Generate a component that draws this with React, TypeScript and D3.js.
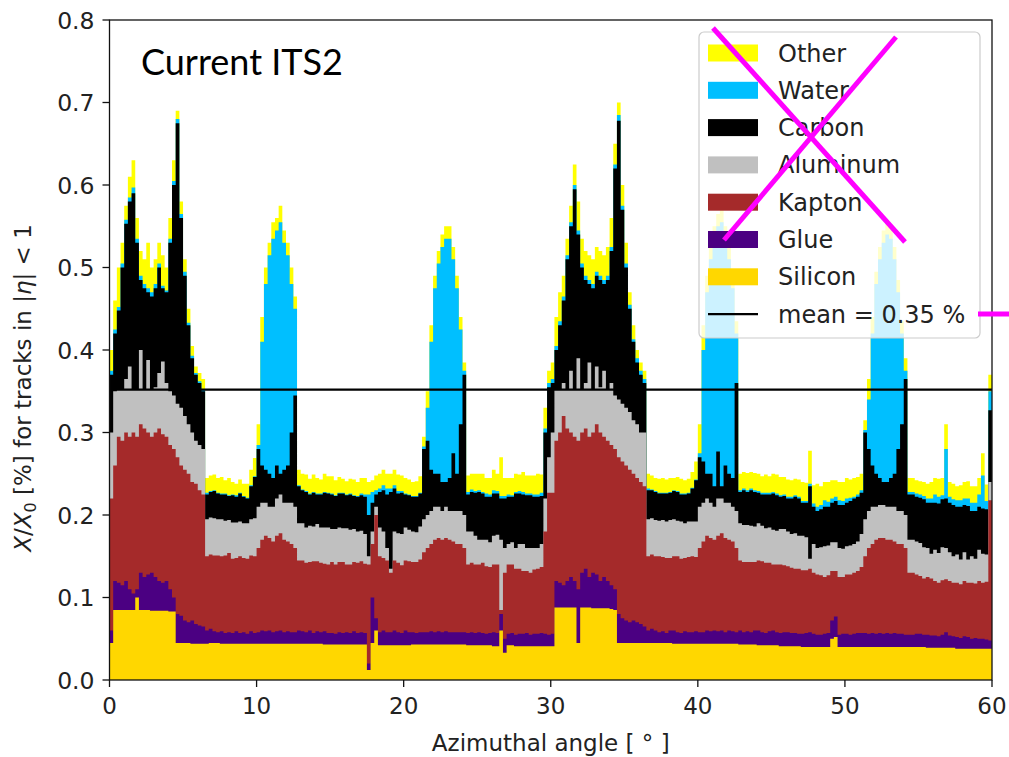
import React from "react";
import * as d3 from "d3";

// Material budget per azimuthal bin (X/X0 in %), 0.25 degree bins from 0 to 60 degrees
const ANGLE_MIN = 0;
const ANGLE_MAX = 60;
const BIN_WIDTH = 0.25;

const silicon = [
  0.045, 0.085, 0.085, 0.085, 0.085, 0.085, 0.085, 0.1, 0.085, 0.085,
  0.085, 0.084, 0.084, 0.084, 0.084, 0.084, 0.083, 0.083, 0.045, 0.045,
  0.045, 0.045, 0.044, 0.044, 0.044, 0.044, 0.044, 0.045, 0.045, 0.045,
  0.044, 0.044, 0.044, 0.044, 0.044, 0.044, 0.044, 0.044, 0.044, 0.044,
  0.044, 0.044, 0.044, 0.044, 0.044, 0.044, 0.044, 0.044, 0.044, 0.044,
  0.044, 0.044, 0.044, 0.044, 0.044, 0.044, 0.044, 0.044, 0.043, 0.043,
  0.043, 0.043, 0.043, 0.043, 0.043, 0.043, 0.043, 0.043, 0.043, 0.043,
  0.012, 0.045, 0.06, 0.042, 0.042, 0.042, 0.042, 0.042, 0.042, 0.042,
  0.042, 0.042, 0.043, 0.043, 0.043, 0.043, 0.043, 0.043, 0.043, 0.043,
  0.043, 0.043, 0.043, 0.043, 0.043, 0.043, 0.043, 0.042, 0.042, 0.042,
  0.042, 0.042, 0.042, 0.042, 0.041, 0.041, 0.06, 0.033, 0.042, 0.042,
  0.041, 0.041, 0.041, 0.041, 0.041, 0.041, 0.041, 0.041, 0.041, 0.041,
  0.041, 0.088, 0.088, 0.088, 0.088, 0.088, 0.088, 0.045, 0.088, 0.088,
  0.088, 0.087, 0.087, 0.087, 0.087, 0.087, 0.086, 0.085, 0.045, 0.045,
  0.045, 0.045, 0.045, 0.045, 0.045, 0.045, 0.045, 0.045, 0.045, 0.045,
  0.045, 0.045, 0.045, 0.044, 0.044, 0.044, 0.044, 0.044, 0.044, 0.044,
  0.044, 0.044, 0.044, 0.044, 0.044, 0.044, 0.044, 0.044, 0.044, 0.044,
  0.044, 0.043, 0.043, 0.043, 0.043, 0.043, 0.042, 0.042, 0.042, 0.042,
  0.042, 0.042, 0.041, 0.041, 0.041, 0.041, 0.041, 0.041, 0.04, 0.04,
  0.04, 0.04, 0.04, 0.04, 0.04, 0.04, 0.05, 0.052, 0.04, 0.04,
  0.04, 0.04, 0.04, 0.04, 0.04, 0.04, 0.04, 0.04, 0.04, 0.04,
  0.04, 0.04, 0.04, 0.04, 0.04, 0.04, 0.04, 0.04, 0.04, 0.04,
  0.04, 0.04, 0.039, 0.039, 0.039, 0.039, 0.039, 0.039, 0.039, 0.039,
  0.038, 0.038, 0.038, 0.038, 0.038, 0.038, 0.038, 0.038, 0.038, 0.038,
];

const glue = [
  0.015, 0.035, 0.033, 0.03, 0.035, 0.025, 0.02, 0.01, 0.045, 0.04,
  0.043, 0.046, 0.041, 0.036, 0.034, 0.036, 0.027, 0.017, 0.035, 0.033,
  0.027, 0.025, 0.028, 0.024, 0.022, 0.021, 0.016, 0.017, 0.014, 0.013,
  0.015, 0.013, 0.014, 0.013, 0.015, 0.013, 0.014, 0.012, 0.015, 0.013,
  0.014, 0.016, 0.015, 0.016, 0.014, 0.015, 0.016, 0.014, 0.015, 0.014,
  0.014, 0.016, 0.015, 0.014, 0.016, 0.013, 0.015, 0.014, 0.016, 0.014,
  0.014, 0.013, 0.015, 0.014, 0.015, 0.014, 0.016, 0.014, 0.015, 0.014,
  0.008, 0.055, 0.015, 0.016, 0.018, 0.016, 0.016, 0.018, 0.016, 0.015,
  0.018, 0.016, 0.015, 0.014, 0.015, 0.015, 0.015, 0.016, 0.015, 0.016,
  0.015, 0.016, 0.015, 0.015, 0.015, 0.015, 0.015, 0.015, 0.016, 0.015,
  0.016, 0.015, 0.014, 0.015, 0.017, 0.016, 0.02, 0.017, 0.014, 0.015,
  0.014, 0.015, 0.015, 0.016, 0.014, 0.015, 0.015, 0.016, 0.015, 0.014,
  0.015, 0.032, 0.03, 0.027, 0.032, 0.037, 0.032, 0.065, 0.042, 0.047,
  0.037, 0.043, 0.041, 0.033, 0.038, 0.033, 0.029, 0.025, 0.035, 0.03,
  0.027, 0.025, 0.027, 0.025, 0.023, 0.02, 0.015, 0.017, 0.015, 0.013,
  0.014, 0.012, 0.015, 0.016, 0.014, 0.013, 0.015, 0.014, 0.014, 0.015,
  0.014, 0.014, 0.016, 0.015, 0.016, 0.015, 0.016, 0.014, 0.016, 0.015,
  0.014, 0.017, 0.015, 0.016, 0.015, 0.017, 0.018, 0.016, 0.015, 0.017,
  0.018, 0.016, 0.016, 0.017, 0.017, 0.016, 0.016, 0.015, 0.016, 0.017,
  0.018, 0.016, 0.015, 0.015, 0.016, 0.017, 0.022, 0.025, 0.015, 0.016,
  0.016, 0.015, 0.016, 0.017, 0.017, 0.017, 0.016, 0.017, 0.016, 0.017,
  0.016, 0.017, 0.016, 0.017, 0.016, 0.016, 0.015, 0.015, 0.015, 0.016,
  0.016, 0.015, 0.016, 0.015, 0.015, 0.014, 0.016, 0.019, 0.015, 0.014,
  0.014, 0.013, 0.015, 0.014, 0.012, 0.013, 0.012, 0.012, 0.011, 0.01,
];

const kapton = [
  0.16, 0.14, 0.177, 0.175, 0.18, 0.185, 0.195, 0.185, 0.18, 0.18,
  0.172, 0.165, 0.175, 0.185, 0.18, 0.175, 0.175, 0.18, 0.19, 0.182,
  0.183, 0.18, 0.168, 0.17, 0.164, 0.16, 0.09, 0.09, 0.092, 0.093,
  0.091, 0.094, 0.096, 0.09, 0.089, 0.093, 0.09, 0.091, 0.092, 0.093,
  0.102, 0.11, 0.116, 0.112, 0.11, 0.116, 0.118, 0.112, 0.109, 0.107,
  0.102, 0.085, 0.086, 0.084, 0.083, 0.087, 0.085, 0.084, 0.082, 0.083,
  0.086, 0.084, 0.085, 0.086, 0.082, 0.083, 0.084, 0.085, 0.086, 0.084,
  0.12, 0.065, 0.125, 0.092, 0.088, 0.087, 0.072, 0.085, 0.084, 0.082,
  0.085, 0.086, 0.085, 0.086, 0.088, 0.097, 0.102, 0.106, 0.112, 0.113,
  0.112, 0.113, 0.112, 0.11, 0.107, 0.107, 0.102, 0.083, 0.084, 0.083,
  0.082, 0.085, 0.082, 0.08, 0.082, 0.083, 0.005, 0.08, 0.084, 0.083,
  0.08, 0.079, 0.076, 0.075, 0.075, 0.078, 0.079, 0.08, 0.124, 0.172,
  0.171, 0.17, 0.182, 0.205, 0.185, 0.175, 0.175, 0.18, 0.17, 0.17,
  0.17, 0.17, 0.182, 0.18, 0.17, 0.17, 0.17, 0.17, 0.19, 0.19,
  0.188, 0.185, 0.178, 0.175, 0.172, 0.17, 0.09, 0.09, 0.09, 0.092,
  0.09, 0.091, 0.088, 0.09, 0.092, 0.09, 0.089, 0.091, 0.092, 0.09,
  0.102, 0.11, 0.115, 0.113, 0.11, 0.116, 0.118, 0.114, 0.11, 0.109,
  0.102, 0.085, 0.085, 0.084, 0.085, 0.083, 0.085, 0.086, 0.085, 0.083,
  0.08, 0.082, 0.083, 0.081, 0.08, 0.079, 0.078, 0.079, 0.077, 0.076,
  0.077, 0.074, 0.073, 0.072, 0.069, 0.07, 0.06, 0.055, 0.07, 0.069,
  0.072, 0.073, 0.074, 0.075, 0.08, 0.093, 0.104, 0.108, 0.114, 0.115,
  0.116, 0.113, 0.114, 0.111, 0.109, 0.109, 0.105, 0.075, 0.075, 0.072,
  0.07, 0.068, 0.07, 0.069, 0.066, 0.065, 0.066, 0.064, 0.066, 0.065,
  0.066, 0.065, 0.067, 0.066, 0.068, 0.066, 0.07, 0.068, 0.07, 0.17,
];

const aluminum = [
  0.08, 0.09, 0.057, 0.062, 0.065, 0.085, 0.052, 0.057, 0.09, 0.047,
  0.088, 0.057, 0.055, 0.067, 0.088, 0.065, 0.065, 0.065, 0.065, 0.07,
  0.065, 0.06, 0.06, 0.052, 0.055, 0.055, 0.045, 0.045, 0.045, 0.044,
  0.045, 0.042, 0.04, 0.044, 0.043, 0.042, 0.042, 0.043, 0.044, 0.046,
  0.05, 0.045, 0.04, 0.038, 0.042, 0.045, 0.047, 0.045, 0.047, 0.05,
  0.05, 0.045, 0.045, 0.043, 0.044, 0.042, 0.045, 0.043, 0.044, 0.045,
  0.04, 0.043, 0.042, 0.041, 0.044, 0.042, 0.04, 0.038, 0.037, 0.036,
  0.01, 0.015, 0.01, 0.035, 0.032, 0.015, 0.005, 0.035, 0.036, 0.038,
  0.04, 0.038, 0.037, 0.036, 0.04, 0.04, 0.04, 0.04, 0.04, 0.038,
  0.035, 0.038, 0.035, 0.037, 0.04, 0.04, 0.04, 0.04, 0.038, 0.035,
  0.03, 0.028, 0.032, 0.03, 0.035, 0.036, 0.085, 0.03, 0.025, 0.027,
  0.025, 0.03, 0.033, 0.028, 0.03, 0.026, 0.025, 0.028, 0.04, 0.043,
  0.073, 0.062, 0.052, 0.04, 0.047, 0.075, 0.057, 0.1, 0.052, 0.055,
  0.09, 0.052, 0.07, 0.055, 0.08, 0.062, 0.075, 0.065, 0.07, 0.07,
  0.07, 0.07, 0.065, 0.065, 0.06, 0.065, 0.045, 0.044, 0.044, 0.043,
  0.045, 0.044, 0.046, 0.045, 0.043, 0.045, 0.042, 0.043, 0.042, 0.043,
  0.05, 0.047, 0.045, 0.043, 0.04, 0.045, 0.042, 0.043, 0.045, 0.042,
  0.045, 0.045, 0.045, 0.045, 0.044, 0.043, 0.045, 0.043, 0.042, 0.043,
  0.042, 0.041, 0.043, 0.044, 0.042, 0.041, 0.043, 0.04, 0.042, 0.04,
  0.012, 0.035, 0.032, 0.034, 0.037, 0.036, 0.035, 0.035, 0.035, 0.034,
  0.034, 0.035, 0.035, 0.036, 0.04, 0.045, 0.045, 0.045, 0.04, 0.04,
  0.04, 0.04, 0.04, 0.042, 0.04, 0.04, 0.04, 0.04, 0.04, 0.04,
  0.04, 0.038, 0.035, 0.03, 0.038, 0.036, 0.04, 0.038, 0.035, 0.032,
  0.034, 0.03, 0.035, 0.028, 0.032, 0.03, 0.038, 0.035, 0.033, 0.022,
];

const carbon = [
  0.07, 0.07, 0.096, 0.148, 0.188, 0.2, 0.238, 0.178, 0.085, 0.123,
  0.082, 0.113, 0.12, 0.128, 0.089, 0.11, 0.18, 0.255, 0.34, 0.23,
  0.17, 0.12, 0.09, 0.08, 0.075, 0.07, 0.03, 0.031, 0.033, 0.031,
  0.03, 0.032, 0.029, 0.033, 0.031, 0.034, 0.032, 0.03, 0.04, 0.05,
  0.07, 0.045, 0.04, 0.04, 0.035, 0.04, 0.025, 0.04, 0.045, 0.085,
  0.135, 0.045, 0.04, 0.043, 0.038, 0.041, 0.036, 0.04, 0.042, 0.041,
  0.042, 0.04, 0.041, 0.042, 0.04, 0.043, 0.04, 0.042, 0.043, 0.045,
  0.05, 0.035, 0.015, 0.043, 0.05, 0.065, 0.093, 0.052, 0.048, 0.05,
  0.04, 0.042, 0.042, 0.043, 0.04, 0.085, 0.09, 0.05, 0.04, 0.04,
  0.035, 0.03, 0.04, 0.07, 0.045, 0.105, 0.17, 0.045, 0.048, 0.052,
  0.058, 0.056, 0.052, 0.055, 0.051, 0.05, 0.05, 0.06, 0.057, 0.055,
  0.066, 0.061, 0.06, 0.064, 0.064, 0.062, 0.062, 0.058, 0.08, 0.085,
  0.06, 0.048, 0.078, 0.1, 0.158, 0.175, 0.243, 0.15, 0.148, 0.125,
  0.095, 0.123, 0.11, 0.13, 0.105, 0.133, 0.16, 0.275, 0.338, 0.235,
  0.17, 0.125, 0.095, 0.075, 0.07, 0.06, 0.035, 0.034, 0.034, 0.033,
  0.032, 0.034, 0.033, 0.034, 0.035, 0.033, 0.035, 0.034, 0.04, 0.05,
  0.06, 0.05, 0.03, 0.035, 0.025, 0.057, 0.015, 0.045, 0.035, 0.035,
  0.155, 0.038, 0.042, 0.04, 0.043, 0.042, 0.037, 0.038, 0.041, 0.04,
  0.044, 0.043, 0.039, 0.04, 0.04, 0.043, 0.044, 0.045, 0.04, 0.042,
  0.088, 0.045, 0.045, 0.046, 0.048, 0.047, 0.048, 0.05, 0.052, 0.053,
  0.053, 0.054, 0.055, 0.054, 0.05, 0.105, 0.075, 0.05, 0.04, 0.033,
  0.028, 0.03, 0.035, 0.04, 0.075, 0.105, 0.165, 0.055, 0.055, 0.054,
  0.055, 0.058, 0.055, 0.062, 0.057, 0.06, 0.058, 0.06, 0.06, 0.062,
  0.058, 0.064, 0.057, 0.065, 0.055, 0.058, 0.052, 0.055, 0.055, 0.087,
];

const water = [
  0.005, 0.005, 0.004, 0.005, 0.005, 0.005, 0.007, 0.005, 0.005, 0.005,
  0.005, 0.005, 0.005, 0.005, 0.003, 0.002, 0.005, 0.005, 0.005, 0.005,
  0.005, 0.003, 0.003, 0.002, 0.002, 0.002, 0.002, 0.001, 0.001, 0.001,
  0.001, 0.001, 0.001, 0.001, 0.002, 0.001, 0.001, 0.001, 0.001, 0.001,
  0.005, 0.15, 0.225, 0.265, 0.29, 0.285, 0.305, 0.275, 0.255, 0.18,
  0.105, 0.001, 0.001, 0.001, 0.001, 0.001, 0.001, 0.001, 0.001, 0.001,
  0.001, 0.001, 0.001, 0.001, 0.001, 0.001, 0.001, 0.001, 0.002, 0.003,
  0.025, 0.013, 0.005, 0.004, 0.006, 0.007, 0.004, 0.004, 0.003, 0.002,
  0.001, 0.001, 0.001, 0.001, 0.001, 0.003, 0.04, 0.155, 0.225, 0.255,
  0.285, 0.295, 0.29, 0.235, 0.225, 0.115, 0.005, 0.003, 0.003, 0.002,
  0.002, 0.002, 0.004, 0.003, 0.004, 0.003, 0.003, 0.003, 0.003, 0.002,
  0.002, 0.003, 0.003, 0.002, 0.002, 0.003, 0.003, 0.004, 0.005, 0.005,
  0.005, 0.005, 0.005, 0.005, 0.005, 0.005, 0.005, 0.005, 0.005, 0.005,
  0.005, 0.005, 0.005, 0.005, 0.005, 0.005, 0.005, 0.005, 0.007, 0.005,
  0.005, 0.005, 0.003, 0.005, 0.005, 0.005, 0.002, 0.001, 0.001, 0.001,
  0.001, 0.001, 0.001, 0.001, 0.001, 0.001, 0.001, 0.001, 0.001, 0.001,
  0.005, 0.135, 0.22, 0.26, 0.3, 0.273, 0.32, 0.275, 0.26, 0.23,
  0.06, 0.002, 0.002, 0.002, 0.002, 0.002, 0.002, 0.002, 0.002, 0.002,
  0.002, 0.002, 0.002, 0.002, 0.002, 0.002, 0.002, 0.002, 0.002, 0.002,
  0.003, 0.004, 0.005, 0.005, 0.008, 0.006, 0.005, 0.005, 0.006, 0.005,
  0.005, 0.004, 0.002, 0.003, 0.003, 0.003, 0.06, 0.16, 0.23, 0.265,
  0.29, 0.3, 0.29, 0.26, 0.19, 0.11, 0.01, 0.003, 0.003, 0.004,
  0.004, 0.004, 0.005, 0.005, 0.01, 0.008, 0.005, 0.06, 0.007, 0.007,
  0.008, 0.008, 0.008, 0.009, 0.01, 0.01, 0.015, 0.04, 0.01, 0.023,
];

const other = [
  0.025, 0.035, 0.048, 0.025, 0.017, 0.025, 0.033, 0.025, 0.03, 0.03,
  0.055, 0.03, 0.03, 0.025, 0.037, 0.028, 0.025, 0.025, 0.01, 0.015,
  0.015, 0.017, 0.012, 0.008, 0.01, 0.013, 0.018, 0.019, 0.019, 0.018,
  0.02, 0.016, 0.021, 0.015, 0.014, 0.016, 0.015, 0.017, 0.019, 0.022,
  0.025, 0.03, 0.02, 0.015, 0.02, 0.015, 0.02, 0.015, 0.015, 0.02,
  0.015, 0.019, 0.019, 0.02, 0.018, 0.021, 0.019, 0.017, 0.022, 0.02,
  0.021, 0.018, 0.019, 0.017, 0.016, 0.018, 0.019, 0.017, 0.019, 0.02,
  0.015, 0.014, 0.018, 0.018, 0.019, 0.018, 0.018, 0.019, 0.02, 0.019,
  0.019, 0.018, 0.017, 0.018, 0.02, 0.012, 0.02, 0.02, 0.015, 0.015,
  0.015, 0.015, 0.015, 0.015, 0.015, 0.015, 0.01, 0.02, 0.019, 0.021,
  0.02, 0.022, 0.019, 0.02, 0.025, 0.021, 0.047, 0.022, 0.02, 0.021,
  0.022, 0.02, 0.024, 0.022, 0.022, 0.023, 0.025, 0.022, 0.025, 0.015,
  0.02, 0.035, 0.035, 0.025, 0.02, 0.02, 0.025, 0.035, 0.03, 0.03,
  0.03, 0.03, 0.03, 0.03, 0.03, 0.035, 0.035, 0.025, 0.015, 0.025,
  0.025, 0.015, 0.017, 0.01, 0.01, 0.01, 0.018, 0.017, 0.016, 0.017,
  0.018, 0.016, 0.017, 0.015, 0.017, 0.018, 0.016, 0.017, 0.019, 0.022,
  0.035, 0.03, 0.02, 0.015, 0.015, 0.015, 0.015, 0.015, 0.015, 0.015,
  0.015, 0.02, 0.02, 0.021, 0.02, 0.021, 0.021, 0.02, 0.022, 0.02,
  0.022, 0.023, 0.022, 0.021, 0.021, 0.02, 0.02, 0.021, 0.023, 0.022,
  0.04, 0.022, 0.028, 0.023, 0.022, 0.024, 0.022, 0.02, 0.022, 0.023,
  0.025, 0.022, 0.023, 0.021, 0.02, 0.012, 0.025, 0.02, 0.015, 0.015,
  0.015, 0.015, 0.015, 0.015, 0.015, 0.015, 0.015, 0.017, 0.017, 0.016,
  0.016, 0.017, 0.018, 0.02, 0.02, 0.022, 0.021, 0.03, 0.018, 0.019,
  0.017, 0.018, 0.02, 0.021, 0.02, 0.02, 0.02, 0.027, 0.02, 0.02,
];

const meanValue = 0.352;

const xTicks = [0, 10, 20, 30, 40, 50, 60];
const yTicks = [0, 0.1, 0.2, 0.3, 0.4, 0.5, 0.6, 0.7, 0.8];

// Stack order, bottom to top
const layers = [
  { key: "Silicon", values: silicon, color: "#ffd700" },
  { key: "Glue", values: glue, color: "#4b0082" },
  { key: "Kapton", values: kapton, color: "#a52a2a" },
  { key: "Aluminum", values: aluminum, color: "#c0c0c0" },
  { key: "Carbon", values: carbon, color: "#000000" },
  { key: "Water", values: water, color: "#00bfff" },
  { key: "Other", values: other, color: "#ffff00" },
];

const W = 1009;
const H = 757;
const plot = { left: 109.5, right: 992, top: 20, bottom: 680 };

const FONT = "'DejaVu Sans', sans-serif";

export default function App() {
  const x = d3.scaleLinear().domain([ANGLE_MIN, ANGLE_MAX]).range([plot.left, plot.right]);
  const y = d3.scaleLinear().domain([0, 0.8]).range([plot.bottom, plot.top]);

  const keys = layers.map((l) => l.key);
  const rows: any[] = silicon.map((_, i) => {
    const r: any = { angle: ANGLE_MIN + i * BIN_WIDTH };
    layers.forEach((l) => (r[l.key] = l.values[i]));
    return r;
  });
  rows.push({ ...rows[rows.length - 1], angle: ANGLE_MAX });

  const stacked = d3.stack<any>().keys(keys)(rows);

  // Each layer is filled from zero up to its cumulative top; painting top-down avoids seams
  const area = d3
    .area<any>()
    .x((d) => x(d.data.angle))
    .y0(y(0))
    .y1((d) => y(d[1]))
    .curve(d3.curveStepAfter);

  const painted = stacked.map((s, i) => ({ key: s.key, color: layers[i].color, d: area(s) || "" })).reverse();

  const legendItems = [...layers].reverse();
  const legend = { x: 699, y: 32, w: 281, h: 306, rowY0: 53, rowStep: 37.3 };
  const yFmt = d3.format(".1f");

  return (
    <svg width={W} height={H} style={{ position: "absolute", left: 0, top: 0, display: "block", background: "#fff" }}>
      <defs>
        <clipPath id="plotClip">
          <rect x={plot.left} y={plot.top} width={plot.right - plot.left} height={plot.bottom - plot.top} />
        </clipPath>
      </defs>

      <g clipPath="url(#plotClip)">
        {painted.map((p) => (
          <path key={p.key} d={p.d} fill={p.color} />
        ))}
        <line x1={x(ANGLE_MIN)} x2={x(ANGLE_MAX)} y1={y(meanValue)} y2={y(meanValue)} stroke="#000" strokeWidth={2.2} />
      </g>

      {/* frame */}
      <rect x={plot.left} y={plot.top} width={plot.right - plot.left} height={plot.bottom - plot.top} fill="none" stroke="#111" strokeWidth={1.3} />

      {/* y axis */}
      {yTicks.map((t) => (
        <g key={"y" + t}>
          <line x1={plot.left - 7} x2={plot.left} y1={y(t)} y2={y(t)} stroke="#111" strokeWidth={1.3} />
          <text x={plot.left - 15} y={y(t) + 8.5} textAnchor="end" fontFamily={FONT} fontSize={23.5} fill="#222">
            {yFmt(t)}
          </text>
        </g>
      ))}

      {/* x axis */}
      {xTicks.map((t) => (
        <g key={"x" + t}>
          <line x1={x(t)} x2={x(t)} y1={plot.bottom} y2={plot.bottom + 7} stroke="#111" strokeWidth={1.3} />
          <text x={x(t)} y={plot.bottom + 34} textAnchor="middle" fontFamily={FONT} fontSize={23} fill="#222">
            {t}
          </text>
        </g>
      ))}

      <text x={(plot.left + plot.right) / 2} y={751} textAnchor="middle" fontFamily={FONT} fontSize={23} fill="#222">
        Azimuthal angle [ ° ]
      </text>

      <text transform={`translate(31, 388) rotate(-90)`} textAnchor="middle" fontFamily={FONT} fontSize={23} fill="#222">
        <tspan fontStyle="italic">X</tspan>
        <tspan>/</tspan>
        <tspan fontStyle="italic">X</tspan>
        <tspan fontSize={16} dy={5}>0</tspan>
        <tspan dy={-5}> [%] for tracks in |</tspan>
        <tspan fontStyle="italic">η</tspan>
        <tspan>| &lt; 1</tspan>
      </text>

      {/* title inside the axes */}
      <text x={141} y={75} fontFamily="Lato, 'Open Sans', sans-serif" fontSize={36} fill="#000">
        Current ITS2
      </text>

      {/* legend */}
      <g>
        <rect x={legend.x} y={legend.y} width={legend.w} height={legend.h} rx={5} fill="#fff" fillOpacity={0.8} stroke="#cccccc" strokeWidth={1.2} />
        {legendItems.map((l, i) => {
          const cy = legend.rowY0 + i * legend.rowStep;
          return (
            <g key={"lg" + l.key}>
              <rect x={708} y={cy - 8.5} width={50} height={17} fill={l.color} />
              <text x={778} y={cy + 8.5} fontFamily={FONT} fontSize={24} fill="#222">
                {l.key}
              </text>
            </g>
          );
        })}
        {(() => {
          const cy = legend.rowY0 + legendItems.length * legend.rowStep;
          return (
            <g>
              <line x1={708} x2={758} y1={cy} y2={cy} stroke="#000" strokeWidth={2.2} />
              <text x={778} y={cy + 8.5} fontFamily={FONT} fontSize={24} fill="#222">
                {`mean = ${meanValue.toFixed(2)} %`}
              </text>
            </g>
          );
        })()}
      </g>

      {/* hand-drawn strike-through marks */}
      <g stroke="#ff00ff" strokeWidth={5} strokeLinecap="butt">
        <line x1={713} y1={28} x2={905} y2={242} />
        <line x1={896} y1={37} x2={724} y2={240} />
        <line x1={978} y1={314} x2={1009} y2={314} />
      </g>
    </svg>
  );
}
